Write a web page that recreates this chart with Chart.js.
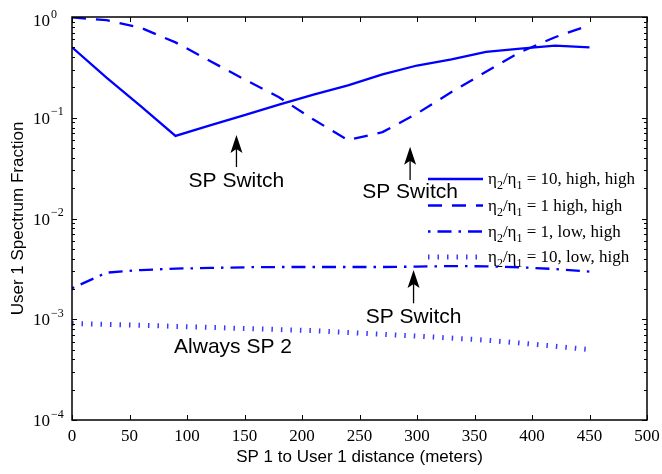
<!DOCTYPE html>
<html>
<head>
<meta charset="utf-8">
<script src="https://cdn.jsdelivr.net/npm/chart.js@4.4.0/dist/chart.umd.min.js"></script>
<style>
  html, body { margin: 0; padding: 0; background: #fff; }
  #chart { display: block; }
</style>
</head>
<body>
<canvas id="chart" width="662" height="474"></canvas>
<script>
// distances (meters) where every curve is sampled
const distances = [0, 30, 60, 90, 120, 150, 180, 210, 240, 270, 300, 330, 360, 390, 420, 450];

// user 1 spectrum fraction
const ratio10HighHigh = [0.50, 0.25, 0.13, 0.066, 0.084, 0.106, 0.135, 0.17, 0.21, 0.27, 0.33, 0.38, 0.45, 0.485, 0.52, 0.50];
const ratio1HighHigh  = [0.99, 0.93, 0.78, 0.56, 0.366, 0.24, 0.16, 0.096, 0.06, 0.072, 0.11, 0.18, 0.286, 0.45, 0.63, 0.83];
const ratio1LowHigh   = [0.00203, 0.0029, 0.00308, 0.00318, 0.00323, 0.00328, 0.0033, 0.0033, 0.0033, 0.0033, 0.00333, 0.00337, 0.00335, 0.00328, 0.00315, 0.00297];
const ratio10LowHigh  = [0.00091, 0.00089, 0.00087, 0.00085, 0.00083, 0.00081, 0.00079, 0.00077, 0.00074, 0.00071, 0.00068, 0.00065, 0.00062, 0.00058, 0.00054, 0.0005];

const xTicks = [0, 50, 100, 150, 200, 250, 300, 350, 400, 450, 500];
const yDecades = [-4, -3, -2, -1, 0];

const legendTails = [' = 10, high, high', ' = 1 high, high', ' = 1, low, high', ' = 10, low, high'];

// "SP Switch" arrows, in data units
const switchNotes = [
    { label: 'SP Switch', x: 143, tip: 0.0675, tail: 0.0324, textY: 0.0207 },
    { label: 'SP Switch', x: 294, tip: 0.0516, tail: 0.0241, textY: 0.0158 },
    { label: 'SP Switch', x: 297, tip: 0.00308, tail: 0.00144, textY: 0.000912 }
];
const alwaysNote = { label: 'Always SP 2', x: 140, y: 0.00046 };

const BLUE = '#0000ff';
const lineStyles = [
    { dash: [], width: 2.3, color: BLUE },
    { dash: [14, 10], width: 2.3, color: BLUE },
    { dash: [14, 7, 2.5, 7], width: 2.3, color: BLUE, offset: 21 },
    { dash: [1.5, 8], width: 5, color: '#3a3aff' }
];

const serif = "'Liberation Serif', 'Times New Roman', serif";
const sans = "'Liberation Sans', Arial, sans-serif";

const matlabFrame = {
    id: 'matlabFrame',
    afterDraw(chart) {
        const { ctx, chartArea: a, scales: { x, y } } = chart;
        ctx.save();

        // box
        ctx.strokeStyle = '#000';
        ctx.lineWidth = 1.5;
        ctx.strokeRect(a.left, a.top, a.right - a.left, a.bottom - a.top);

        // inward tick marks
        ctx.lineWidth = 1;
        ctx.beginPath();
        xTicks.forEach(v => {
            const px = Math.round(x.getPixelForValue(v)) + 0.5;
            ctx.moveTo(px, a.bottom); ctx.lineTo(px, a.bottom - 5);
            ctx.moveTo(px, a.top); ctx.lineTo(px, a.top + 5);
        });
        yDecades.forEach(d => {
            const py = Math.round(y.getPixelForValue(Math.pow(10, d))) + 0.5;
            ctx.moveTo(a.left, py); ctx.lineTo(a.left + 5, py);
            ctx.moveTo(a.right, py); ctx.lineTo(a.right - 5, py);
            if (d < 0) {
                for (let k = 2; k <= 9; k++) {
                    const pm = Math.round(y.getPixelForValue(k * Math.pow(10, d))) + 0.5;
                    ctx.moveTo(a.left, pm); ctx.lineTo(a.left + 3, pm);
                    ctx.moveTo(a.right, pm); ctx.lineTo(a.right - 3, pm);
                }
            }
        });
        ctx.stroke();

        // y tick labels 10^n
        ctx.fillStyle = '#000';
        yDecades.forEach(d => {
            const py = Math.max(y.getPixelForValue(Math.pow(10, d)), 20);
            ctx.font = '17px ' + serif;
            ctx.textAlign = 'right';
            ctx.textBaseline = 'alphabetic';
            ctx.fillText('10', 50, py + 6);
            ctx.font = '12px ' + serif;
            ctx.textAlign = 'left';
            ctx.fillText(d === 0 ? '0' : '\u2212' + Math.abs(d), 51, py - 2.5);
        });

        // annotations
        ctx.font = '21px ' + sans;
        ctx.textAlign = 'center';
        ctx.textBaseline = 'alphabetic';
        switchNotes.forEach(n => {
            const px = x.getPixelForValue(n.x);
            const tipY = y.getPixelForValue(n.tip);
            const tailY = y.getPixelForValue(n.tail);
            ctx.lineWidth = 1.3;
            ctx.beginPath();
            ctx.moveTo(px, tailY);
            ctx.lineTo(px, tipY + 10);
            ctx.stroke();
            ctx.beginPath();
            ctx.moveTo(px, tipY);
            ctx.lineTo(px - 6, tipY + 18);
            ctx.lineTo(px, tipY + 14);
            ctx.lineTo(px + 6, tipY + 18);
            ctx.closePath();
            ctx.fill();
            ctx.fillText(n.label, px, y.getPixelForValue(n.textY));
        });
        ctx.fillText(alwaysNote.label, x.getPixelForValue(alwaysNote.x), y.getPixelForValue(alwaysNote.y));

        // legend
        const rowY = [179, 205.5, 231.5, 257];
        lineStyles.forEach((s, i) => {
            ctx.save();
            ctx.strokeStyle = s.color;
            ctx.lineWidth = s.width;
            ctx.lineCap = 'butt';
            ctx.setLineDash(s.dash);
            ctx.lineDashOffset = s.offset || 0;
            ctx.beginPath();
            ctx.moveTo(428, rowY[i]);
            ctx.lineTo(483, rowY[i]);
            ctx.stroke();
            ctx.restore();

            let tx = 488;
            const base = rowY[i] + 5;
            ctx.textAlign = 'left';
            const parts = [['\u03b7', 0], ['2', 1], ['/\u03b7', 0], ['1', 1], [legendTails[i], 0]];
            parts.forEach(([t, sub]) => {
                ctx.font = (sub ? '12px ' : '17px ') + serif;
                ctx.fillText(t, tx, base + (sub ? 5 : 0));
                tx += ctx.measureText(t).width;
            });
        });

        ctx.restore();
    }
};

function makeDataset(label, values, s) {
    return {
        label,
        data: values.map((v, i) => ({ x: distances[i], y: v })),
        borderColor: s.color,
        borderWidth: s.width,
        borderDash: s.dash,
        borderDashOffset: s.offset || 0,
        borderCapStyle: 'butt',
        pointRadius: 0,
        tension: 0,
        fill: false
    };
}

new Chart(document.getElementById('chart'), {
    type: 'line',
    data: {
        datasets: [
            makeDataset('10, high, high', ratio10HighHigh, lineStyles[0]),
            makeDataset('1 high, high', ratio1HighHigh, lineStyles[1]),
            makeDataset('1, low, high', ratio1LowHigh, lineStyles[2]),
            makeDataset('10, low, high', ratio10LowHigh, lineStyles[3])
        ]
    },
    options: {
        responsive: false,
        animation: false,
        layout: { padding: { top: 17, right: 15, bottom: 0, left: 0 } },
        plugins: {
            legend: { display: false },
            tooltip: { enabled: false }
        },
        scales: {
            x: {
                type: 'linear',
                min: 0,
                max: 500,
                grid: { display: false, drawTicks: false },
                border: { display: false },
                ticks: {
                    stepSize: 50,
                    autoSkip: false,
                    maxRotation: 0,
                    padding: 6,
                    color: '#000',
                    font: { family: serif, size: 17 }
                },
                title: {
                    display: true,
                    text: 'SP 1 to User 1 distance (meters)',
                    color: '#000',
                    font: { family: sans, size: 17 },
                    padding: { top: 0, bottom: 6 }
                },
                afterFit(scale) {
                    scale.height = 54;
                    scale.paddingLeft = 0;
                    scale.paddingRight = 0;
                }
            },
            y: {
                type: 'logarithmic',
                min: 1e-4,
                max: 1,
                grid: { display: false, drawTicks: false },
                border: { display: false },
                ticks: { display: false },
                title: {
                    display: true,
                    text: 'User 1 Spectrum Fraction',
                    color: '#000',
                    font: { family: sans, size: 17 },
                    padding: { top: 8, bottom: 0 }
                },
                afterFit(scale) {
                    scale.width = 72;
                    scale.paddingTop = 0;
                    scale.paddingBottom = 0;
                }
            }
        }
    },
    plugins: [matlabFrame]
});
</script>
</body>
</html>
